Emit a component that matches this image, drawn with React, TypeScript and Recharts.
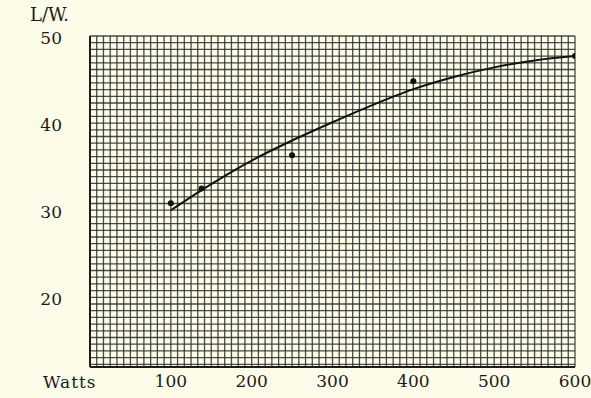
import { ComposedChart, Line, Scatter, XAxis, YAxis, CartesianGrid } from "recharts";

// fitted curve
const curveWatts = [100, 150, 200, 250, 300, 350, 400, 450, 500, 550, 600];
const curveLW = [30.0, 33.0, 35.7, 38.0, 40.1, 42.1, 43.9, 45.3, 46.4, 47.2, 47.7];

// measured points
const pointWatts = [100, 138, 250, 400, 600];
const pointLW = [30.8, 32.5, 36.3, 44.8, 47.7];

const xLabels = [100, 200, 300, 400, 500, 600];
const yLabels = [20, 30, 40, 50];

// graph paper rulings (not data): 12 per 100 W, 13 per 10 L/W
const xGrid = Array.from({ length: 73 }, (_, i) => (i * 100) / 12);
const yGrid = Array.from({ length: 50 }, (_, i) => 50 - (i * 10) / 13);

const curve = curveWatts.map((w, i) => ({ w, lw: curveLW[i] }));
const points = pointWatts.map((w, i) => ({ w, lw: pointLW[i] }));

const font = "'DejaVu Serif', 'Liberation Serif', serif";
const ink = "#1c1c1c";

const labelOf = (list: number[]) => (v: number) => {
  const hit = list.find((l) => Math.abs(l - v) < 1e-6);
  return hit === undefined ? "" : String(hit);
};

const Dot = (p: any) => <circle cx={p.cx} cy={p.cy} r={3} fill="#111" />;

export default function App() {
  return (
    <div
      style={{
        position: "absolute",
        left: 0,
        top: 0,
        width: 591,
        height: 398,
        background: "#fcfce8",
        fontFamily: font,
      }}
    >
      <div style={{ position: "absolute", left: 30, top: 4, fontSize: 18, color: ink }}>L/W.</div>
      <div
        style={{ position: "absolute", left: 43, top: 372, fontSize: 17, letterSpacing: 1, color: ink }}
      >
        Watts
      </div>
      <ComposedChart
        width={591}
        height={398}
        margin={{ top: 36, right: 16, left: 0, bottom: 0 }}
      >
        <CartesianGrid stroke="#2b2b2b" strokeOpacity={0.85} strokeWidth={1.3} />
        <XAxis
          type="number"
          dataKey="w"
          domain={[0, 600]}
          ticks={xGrid}
          interval={0}
          tickFormatter={labelOf(xLabels)}
          allowDataOverflow
          height={31}
          tickLine={false}
          tickSize={0}
          tickMargin={8}
          axisLine={{ stroke: ink, strokeWidth: 2 }}
          tick={{ fill: ink, fontSize: 17, fontFamily: font }}
        />
        <YAxis
          type="number"
          dataKey="lw"
          domain={[12, 50]}
          ticks={yGrid}
          interval={0}
          tickFormatter={labelOf(yLabels)}
          allowDataOverflow
          width={90}
          tickLine={false}
          tickSize={0}
          tickMargin={28}
          axisLine={{ stroke: ink, strokeWidth: 2 }}
          tick={{ fill: ink, fontSize: 17, fontFamily: font, dy: 2 }}
        />
        <Line
          data={curve}
          dataKey="lw"
          type="monotone"
          stroke="#111"
          strokeWidth={2}
          dot={false}
          isAnimationActive={false}
        />
        <Scatter data={points} dataKey="lw" shape={Dot} isAnimationActive={false} />
      </ComposedChart>
    </div>
  );
}
